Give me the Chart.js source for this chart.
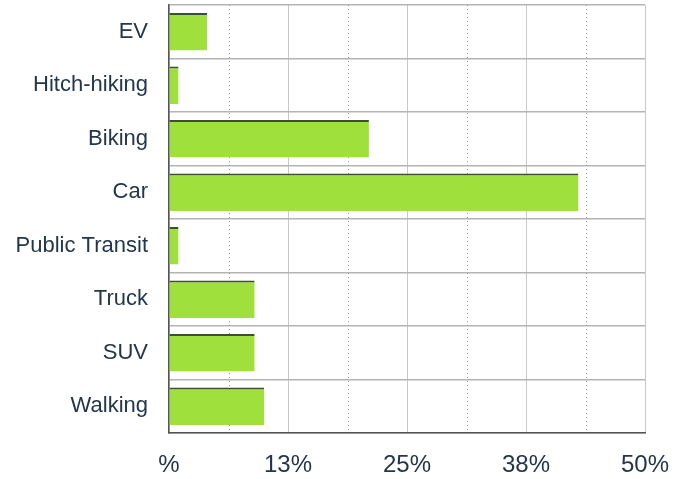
<!DOCTYPE html>
<html>
<head>
<meta charset="utf-8">
<script src="https://cdn.jsdelivr.net/npm/chart.js@4/dist/chart.umd.min.js"></script>
<style>
  html, body { margin: 0; padding: 0; background: #fff; }
  #wrap { width: 675px; height: 479px; }
</style>
</head>
<body>
<div id="wrap"><canvas id="modeChart" width="675" height="479"></canvas></div>
<script>
const modes = ['EV', 'Hitch-hiking', 'Biking', 'Car', 'Public Transit', 'Truck', 'SUV', 'Walking'];
const shares = [4, 1, 21, 43, 1, 9, 9, 10];
const majorTicks = [0, 12.5, 25, 37.5, 50];
const minorTicks = [6.25, 18.75, 31.25, 43.75];

// dotted lines halfway between the labelled ticks
const minorGrid = {
    id: 'minorGrid',
    beforeDatasetsDraw(chart) {
        const ctx = chart.ctx;
        const x = chart.scales.x;
        const area = chart.chartArea;
        ctx.save();
        ctx.strokeStyle = '#9a9a9a';
        ctx.lineWidth = 1;
        ctx.setLineDash([1, 3]);
        minorTicks.forEach(v => {
            const px = Math.round(x.getPixelForValue(v)) + 0.5;
            ctx.beginPath();
            ctx.moveTo(px, area.top);
            ctx.lineTo(px, area.bottom);
            ctx.stroke();
        });
        ctx.restore();
    }
};

const textColor = '#23364a';
const fontFamily = 'Liberation Sans, Arial, sans-serif';

new Chart(document.getElementById('modeChart').getContext('2d'), {
    type: 'bar',
    data: {
        labels: modes,
        datasets: [{
            data: shares,
            backgroundColor: '#a0e03c',
            borderColor: '#3f4d30',
            borderWidth: {top: 2, left: 0, right: 0, bottom: 0},
            borderSkipped: false,
            categoryPercentage: 1,
            barPercentage: 0.7
        }]
    },
    options: {
        indexAxis: 'y',
        responsive: false,
        animation: false,
        layout: {padding: {top: 5, right: 30, left: 0, bottom: 0}},
        plugins: {
            legend: {display: false},
            tooltip: {enabled: false}
        },
        scales: {
            x: {
                min: 0,
                max: 50,
                afterBuildTicks: axis => {
                    axis.ticks = majorTicks.map(v => ({value: v}));
                },
                afterFit: axis => {
                    axis.height = 46;
                    axis.paddingLeft = 0;
                    axis.paddingRight = 0;
                },
                grid: {color: '#c8c8c8', lineWidth: 1, drawTicks: false},
                border: {display: true, color: '#555', width: 1.5},
                ticks: {
                    color: textColor,
                    padding: 18,
                    maxRotation: 0,
                    font: {family: fontFamily, size: 24},
                    callback: v => v === 0 ? '%' : Math.round(v) + '%'
                }
            },
            y: {
                afterFit: axis => {
                    axis.width = 169;
                    axis.paddingTop = 0;
                    axis.paddingBottom = 0;
                },
                grid: {color: '#b4b4b4', lineWidth: 1.5, drawTicks: false},
                border: {display: true, color: '#555', width: 1.5},
                ticks: {
                    color: textColor,
                    padding: 21,
                    font: {family: fontFamily, size: 22}
                }
            }
        }
    },
    plugins: [minorGrid]
});
</script>
</body>
</html>
